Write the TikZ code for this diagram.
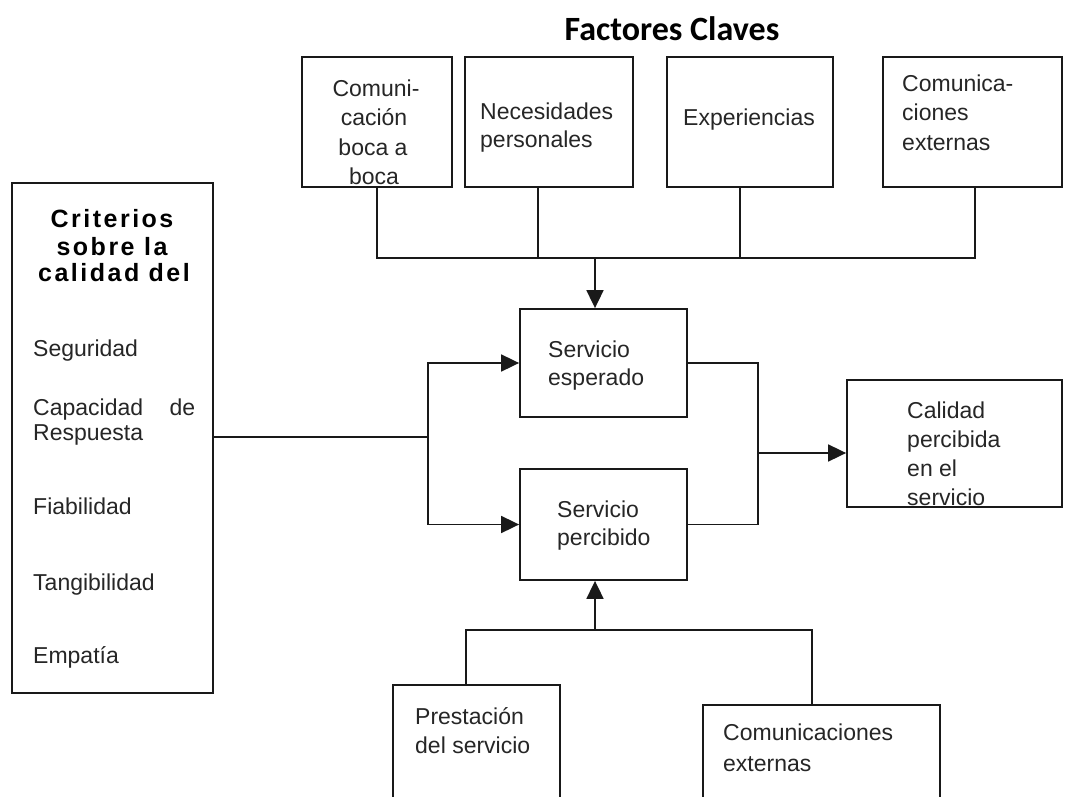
\documentclass[tikz,border=0pt]{standalone}
\usepackage{fontspec}
\setmainfont{Liberation Sans}
\newfontfamily\titlefont{Carlito}
\newfontfamily\critfont[LetterSpace=10]{Liberation Sans}
\usetikzlibrary{arrows.meta}
\tikzset{
  line/.style={line width=1.8pt, draw=black!90},
  arr/.style={line, -{Triangle[length=18pt,width=17pt]}},
  box/.style={line, rectangle, inner sep=0pt, fill=white},
  txt/.style={inner sep=0pt, anchor=base west, text=black!85, font=\fontsize{23}{28}\selectfont},
  ctxt/.style={txt, anchor=base},
  head/.style={inner sep=0pt, anchor=base, text=black, font=\critfont\bfseries\fontsize{25}{28}\selectfont}
}
\begin{document}
\begin{tikzpicture}[x=1pt, y=-1pt]
\useasboundingbox (0,0) rectangle (1065,797);
\clip (0,0) rectangle (1065,797);
\fill[white] (0,0) rectangle (1065,797);

% title
\node[inner sep=0pt, anchor=base, font=\titlefont\bfseries\fontsize{34}{40}\selectfont] (title) at (672,41) {Factores Claves};

% key factors (top row)
\node[box, minimum width=150pt, minimum height=130pt] (b1) at (377,122) {};
\node[box, minimum width=168pt, minimum height=130pt] (b2) at (549,122) {};
\node[box, minimum width=166pt, minimum height=130pt] (b3) at (750,122) {};
\node[box, minimum width=179pt, minimum height=130pt] (b4) at (972.5,122) {};

% quality criteria
\node[box, minimum width=201pt, minimum height=510pt] (crit) at (112.5,438) {};

% central boxes
\node[box, minimum width=167pt, minimum height=108pt] (esp) at (603.5,363) {};
\node[box, minimum width=167pt, minimum height=111pt] (per) at (603.5,524.5) {};
\node[box, minimum width=215pt, minimum height=127pt] (cal) at (954.5,443.5) {};

% bottom boxes (running past the lower edge)
\node[box, minimum width=167pt, minimum height=125pt] (pre) at (476.5,747.5) {};
\node[box, minimum width=237pt, minimum height=105pt] (com) at (821.5,757.5) {};

% junction points
\coordinate (t1) at (377,258);
\coordinate (t2) at (538,258);
\coordinate (t3) at (740,258);
\coordinate (t4) at (975,258);
\coordinate (tc) at (595,258);
\coordinate (lsplit) at (428,437);
\coordinate (rjoin) at (758,453);
\coordinate (bc) at (595,630);
\coordinate (bl) at (466,630);
\coordinate (br) at (812,630);

% top bus into expected service
\draw[line] (b1.south -| t1) -- (t1) -- (t4) -- (b4.south -| t4);
\draw[line] (b2.south -| t2) -- (t2);
\draw[line] (b3.south -| t3) -- (t3);
\draw[arr] (tc) -- (tc |- esp.north);

% criteria split to both services
\draw[line] (crit.east |- lsplit) -- (lsplit);
\draw[arr] (lsplit) |- (esp.west);
\draw[arr] (lsplit) |- (per.west);

% both services join into perceived quality
\draw[line] (esp.east) -| (rjoin);
\draw[line] (per.east) -| (rjoin);
\draw[arr] (rjoin) -- (rjoin -| cal.west);

% bottom bus into perceived service
\draw[line] (pre.north -| bl) -- (bl) -- (br) -- (com.north -| br);
\draw[arr] (bc) -- (bc |- per.south);

% texts: top row
\node[ctxt] (b1a) at (376,97) {Comuni-};
\node[ctxt] (b1b) at (374,126) {cación};
\node[ctxt] (b1c) at (373,155) {boca a};
\node[ctxt] (b1d) at (374,184) {boca};
\node[txt] (b2a) at (480,120) {Necesidades};
\node[txt] (b2b) at (480,147) {personales};
\node[txt] (b3a) at (683,125) {Experiencias};
\node[txt] (b4a) at (902,92) {Comunica-};
\node[txt] (b4b) at (902,121) {ciones};
\node[txt] (b4c) at (902,150) {externas};

% texts: criteria
\node[head] (h1) at (112,227) {Criterios};
\node[head] (h2) at (112,255) {sobre la};
\node[head] (h3) at (114,281) {calidad del};
\node[txt] (c1) at (33,356) {Seguridad};
\node[txt] (c2) at (33,415) {\makebox[162pt][l]{Capacidad\hfill de}};
\node[txt] (c3) at (33,440) {Respuesta};
\node[txt] (c4) at (33,514) {Fiabilidad};
\node[txt] (c5) at (33,590) {Tangibilidad};
\node[txt] (c6) at (33,663) {Empatía};

% texts: central boxes
\node[txt] (e1) at (548,357) {Servicio};
\node[txt] (e2) at (548,385) {esperado};
\node[txt] (p1) at (557,517) {Servicio};
\node[txt] (p2) at (557,545) {percibido};
\node[txt] (q1) at (907,418) {Calidad};
\node[txt] (q2) at (907,447) {percibida};
\node[txt] (q3) at (907,476) {en el};
\node[txt] (q4) at (907,505) {servicio};

% texts: bottom boxes
\node[txt] (r1) at (415,724) {Prestación};
\node[txt] (r2) at (415,753) {del servicio};
\node[txt] (s1) at (723,740) {Comunicaciones};
\node[txt] (s2) at (723,771) {externas};
\end{tikzpicture}
\end{document}
